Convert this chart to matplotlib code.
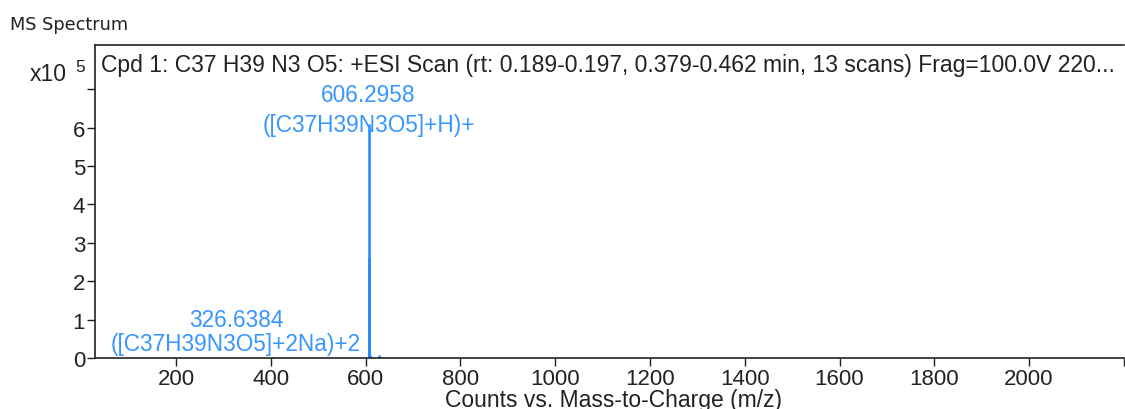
import matplotlib.pyplot as plt
import numpy as np

plt.rcParams['font.family'] = ['Liberation Sans', 'DejaVu Sans']

# Peak list (m/z, counts in units of 1e5)
mz = [326.6384, 606.2958, 607.2990, 608.3020, 628.2780, 629.2810]
counts = [0.03, 6.1, 2.6, 0.08, 0.07, 0.03]

# Labelled peaks
label_mz = [606.2958, 326.6384]
label_num = ['606.2958', '326.6384']
label_ion = ['([C37H39N3O5]+H)+', '([C37H39N3O5]+2Na)+2']
num_y = [6.86, 0.99]
ion_y = [6.07, 0.39]

xticks = [200, 400, 600, 800, 1000, 1200, 1400, 1600, 1800, 2000]
yticks = [0, 1, 2, 3, 4, 5, 6, 7]

header = 'Cpd 1: C37 H39 N3 O5: +ESI Scan (rt: 0.189-0.197, 0.379-0.462 min, 13 scans) Frag=100.0V 220...'

blue = '#3796ff'
dark = '#222222'

fig = plt.figure(figsize=(11.25, 4.1), dpi=100)
ax = fig.add_axes([0.0844, 0.1244, 0.9146, 0.7636])

ax.vlines(mz, 0, counts, color='#1f88ff', lw=1.8)

# two-line peak labels: m/z above, ion formula below
for x, num, ion, y1, y2 in zip(label_mz, label_num, label_ion, num_y, ion_y):
    ax.text(x, y1, num, color=blue, ha='center', va='center', fontsize=16.3)
    ax.text(x, y2, ion, color=blue, ha='center', va='center', fontsize=16.3)

ax.set_xlim(29, 2200)
ax.set_ylim(0, 8.15)
ax.set_xticks(xticks + [2200])
ax.set_xticklabels([str(v) for v in xticks] + [''])
ax.set_yticks(yticks)
ax.set_yticklabels([str(v) for v in yticks[:-1]] + [''])
ax.tick_params(axis='both', direction='out', length=6, width=1, labelsize=16,
               colors=dark, pad=1)

ax.spines['right'].set_visible(False)
for s in ['left', 'top', 'bottom']:
    ax.spines[s].set_color(dark)
    ax.spines[s].set_linewidth(1.2)

fig.text(0.545, 0.024, 'Counts vs. Mass-to-Charge (m/z)', fontsize=16.5,
         color=dark, ha='center', va='center')

ax.text(0.006, 0.975, header, transform=ax.transAxes, ha='left', va='top',
        fontsize=16.5, color=dark)

fig.text(0.026, 0.818, 'x10', fontsize=16.5, color=dark, ha='left', va='center')
fig.text(0.067, 0.835, '5', fontsize=12.5, color=dark, ha='left', va='center')
fig.text(0.009, 0.938, 'MS Spectrum', fontsize=12.8, color=dark, ha='left',
         va='center', family=['DejaVu Sans'])

fig.savefig('out.png', dpi=100)
